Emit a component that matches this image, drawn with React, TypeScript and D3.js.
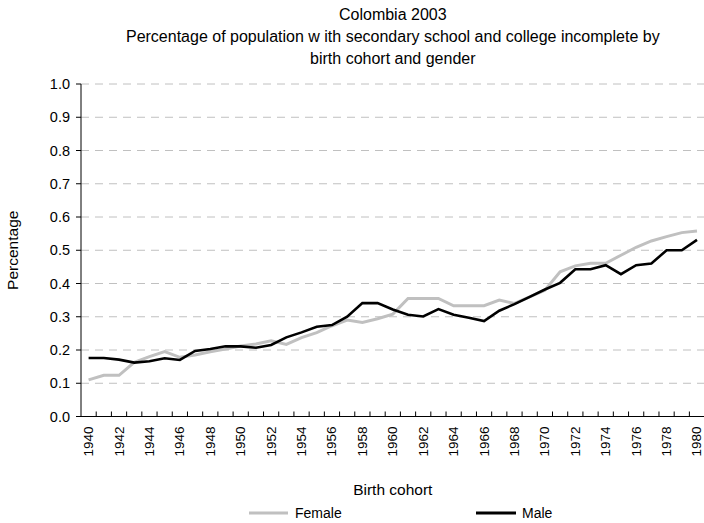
import React from "react";
import * as d3 from "d3";

const years: number[] = d3.range(1940, 1981);
const female: number[] = [
  0.110, 0.124, 0.124, 0.163, 0.180, 0.195, 0.178, 0.185, 0.195, 0.203,
  0.212, 0.218, 0.228, 0.217, 0.237, 0.252, 0.273, 0.290, 0.283, 0.294,
  0.308, 0.355, 0.355, 0.355, 0.333, 0.333, 0.333, 0.350, 0.340, 0.360,
  0.380, 0.435, 0.453, 0.461, 0.461, 0.485, 0.509, 0.528, 0.541, 0.553,
  0.558,
];
const male: number[] = [
  0.176, 0.176, 0.171, 0.162, 0.166, 0.175, 0.170, 0.197, 0.203, 0.211,
  0.211, 0.207, 0.215, 0.238, 0.253, 0.270, 0.275, 0.300, 0.341, 0.341,
  0.322, 0.306, 0.301, 0.323, 0.306, 0.297, 0.287, 0.318, 0.338, 0.360,
  0.382, 0.402, 0.443, 0.443, 0.455, 0.428, 0.455, 0.460, 0.500, 0.500,
  0.531,
];
const yTicks: number[] = d3.range(0, 11).map((d) => d / 10);
const xTickLabels: number[] = years.filter((y) => (y - 1940) % 2 === 0);
const titleLines: string[] = [
  "Colombia 2003",
  "Percentage of population w ith secondary school and college incomplete by",
  "birth cohort and gender",
];

const W = 704;
const H = 523;
const left = 81;
const right = 704.6;
const top = 84;
const bottom = 416.5;
const FONT = "'Liberation Sans', Arial, sans-serif";

export default function App() {
  const x = d3
    .scaleBand<number>()
    .domain(years)
    .range([left, right])
    .paddingInner(0)
    .paddingOuter(0);
  const y = d3.scaleLinear().domain([0, 1]).range([bottom, top]);
  const cx = (yr: number) => (x(yr) as number) + x.bandwidth() / 2;

  const line = d3
    .line<number>()
    .x((_, i) => cx(years[i]))
    .y((d) => y(d));

  const midX = (left + right) / 2;

  return (
    <svg
      width={W}
      height={H}
      style={{ position: "absolute", left: 0, top: 0, background: "#fff" }}
      fontFamily={FONT}
    >
      <rect x={0} y={0} width={W} height={H} fill="#fff" />
      {titleLines.map((t, i) => (
        <text
          key={i}
          x={midX}
          y={14 + i * 22}
          textAnchor="middle"
          dominantBaseline="central"
          fontSize={16}
          fill="#000"
        >
          {t}
        </text>
      ))}
      {/* gridlines */}
      {yTicks
        .filter((t) => t > 0)
        .map((t) => (
          <line
            key={t}
            x1={left}
            x2={right}
            y1={y(t)}
            y2={y(t)}
            stroke="#c0c0c0"
            strokeWidth={1}
            strokeDasharray="8,6"
          />
        ))}
      {/* y axis */}
      <line x1={left} x2={left} y1={top} y2={bottom} stroke="#000" strokeWidth={1} />
      {yTicks.map((t) => (
        <g key={t}>
          <line x1={left - 5} x2={left} y1={y(t)} y2={y(t)} stroke="#000" />
          <text
            x={70}
            y={y(t)}
            textAnchor="end"
            dominantBaseline="central"
            fontSize={14.5}
          >
            {t.toFixed(1)}
          </text>
        </g>
      ))}
      {/* x axis */}
      <line x1={left} x2={right} y1={bottom} y2={bottom} stroke="#000" strokeWidth={1} />
      {years.slice(1).map((yr) => (
        <line
          key={yr}
          x1={x(yr) as number}
          x2={x(yr) as number}
          y1={bottom}
          y2={bottom - 5}
          stroke="#000"
        />
      ))}
      {xTickLabels.map((yr) => (
        <text
          key={yr}
          transform={`translate(${cx(yr)},${bottom + 10}) rotate(-90)`}
          textAnchor="end"
          dominantBaseline="central"
          fontSize={13.5}
        >
          {yr}
        </text>
      ))}
      {/* series */}
      <path d={line(female) || ""} fill="none" stroke="#c0c0c0" strokeWidth={3} strokeLinejoin="miter" />
      <path d={line(male) || ""} fill="none" stroke="#000" strokeWidth={2.6} strokeLinejoin="miter" />
      {/* axis titles */}
      <text
        transform={`translate(12.5,${(top + bottom) / 2}) rotate(-90)`}
        textAnchor="middle"
        dominantBaseline="central"
        fontSize={15.5}
      >
        Percentage
      </text>
      <text x={midX} y={489} textAnchor="middle" dominantBaseline="central" fontSize={15.5}>
        Birth cohort
      </text>
      {/* legend */}
      <line x1={249} x2={288} y1={513} y2={513} stroke="#c0c0c0" strokeWidth={3} />
      <text x={295} y={513} dominantBaseline="central" fontSize={14}>
        Female
      </text>
      <line x1={476} x2={516} y1={513} y2={513} stroke="#000" strokeWidth={3} />
      <text x={522} y={513} dominantBaseline="central" fontSize={14}>
        Male
      </text>
    </svg>
  );
}
